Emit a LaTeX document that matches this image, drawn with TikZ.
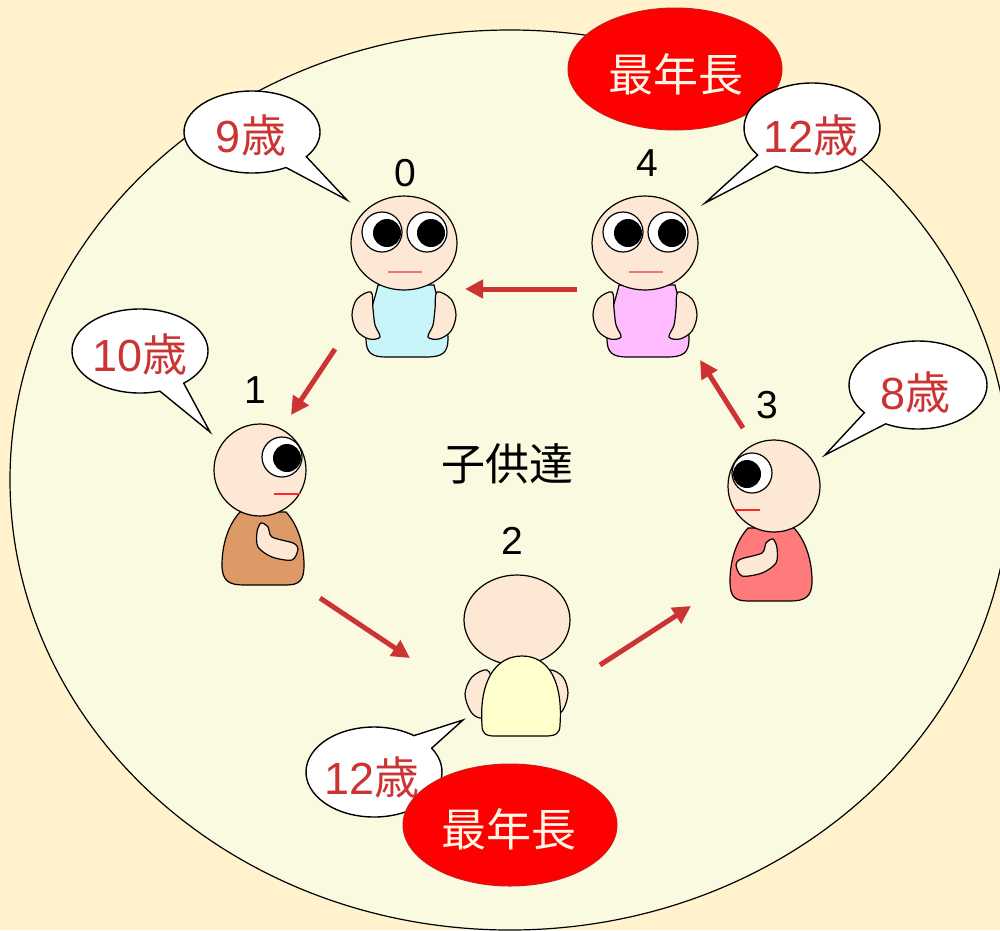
\documentclass[tikz,border=0pt]{standalone}
\usepackage{fontspec}
\setmainfont{Liberation Sans}
\newfontfamily\jp{Noto Sans CJK JP}
\usetikzlibrary{arrows.meta}
\definecolor{paper}{RGB}{255,242,204}
\definecolor{field}{RGB}{250,250,225}
\definecolor{skin}{RGB}{253,231,213}
\definecolor{shirtcyan}{RGB}{200,245,250}
\definecolor{shirtpink}{RGB}{255,187,255}
\definecolor{shirtbrown}{RGB}{221,153,102}
\definecolor{shirtred}{RGB}{255,122,122}
\definecolor{shirtyellow}{RGB}{255,255,204}
\definecolor{agered}{RGB}{204,51,51}
\definecolor{mouthpink}{RGB}{240,120,110}
\definecolor{mouthred}{RGB}{255,40,40}
\definecolor{badgeedge}{RGB}{200,30,30}
\definecolor{badgetext}{RGB}{255,246,230}

\tikzset{
  outline/.style={draw=black,line width=1.2pt},
  bubble/.style={draw=black,line width=1.4pt,fill=white},
  badge/.style={draw=badgeedge,line width=1pt,fill=red},
  flow/.style={draw=agered,line width=5pt,-{Triangle[length=18pt,width=18pt]}},
  agetext/.style={inner sep=0pt,text=agered,font=\fontsize{45}{50}\selectfont},
  badgelabel/.style={inner sep=0pt,text=badgetext,font=\jp\fontsize{45}{50}\selectfont},
  numlabel/.style={inner sep=0pt,font=\fontsize{39}{44}\selectfont},
  % child seen from the front
  pics/frontkid/.style={code={
    \draw[outline,fill=#1] (-26,42) .. controls (-30,60) and (-38,78) .. (-38,96)
      .. controls (-38,110) and (-32,114) .. (-18,114) -- (22,114)
      .. controls (38,114) and (44,110) .. (44,96)
      .. controls (44,78) and (34,60) .. (30,42) -- cycle;
    \draw[outline,fill=skin] plot[smooth cycle,tension=0.55] coordinates
      {(-33,49) (-47,56) (-52,72) (-47,88) (-35,96) (-24,94) (-29,82) (-31,66)};
    \begin{scope}[xscale=-1]
      \draw[outline,fill=skin] plot[smooth cycle,tension=0.55] coordinates
        {(-33,49) (-47,56) (-52,72) (-47,88) (-35,96) (-24,94) (-29,82) (-31,66)};
    \end{scope}
    \draw[outline,fill=skin] (0,0) ellipse[x radius=53,y radius=47];
    \draw[outline,fill=white] (-22,-11) circle[radius=20];
    \fill[black] (-17,-10) circle[radius=14];
    \draw[outline,fill=white] (23,-11) circle[radius=20];
    \fill[black] (27,-10) circle[radius=14];
    \draw[mouthpink,line width=1.6pt] (-16,29) -- (18,29);
  }},
  % child seen from the side, facing right
  pics/sidekid/.style={code={
    \draw[outline,fill=#1] (-20,42) .. controls (-32,55) and (-38,75) .. (-38,95)
      .. controls (-38,111) and (-31,115) .. (-16,115) -- (26,115)
      .. controls (40,115) and (44,110) .. (44,95)
      .. controls (44,75) and (38,55) .. (26,42) -- cycle;
    \draw[outline,fill=skin] plot[smooth cycle,tension=0.5] coordinates
      {(1,53) (8,57) (12,67) (33,73) (38,79) (32,90) (12,87) (-2,77) (-3,62)};
    \draw[outline,fill=skin] (0,0) circle[radius=46];
    \draw[outline,fill=white] (22,-13) circle[radius=20];
    \fill[black] (27,-12) circle[radius=14];
    \draw[mouthred,line width=1.4pt] (14,24) -- (40,24);
  }},
  % child seen from behind
  pics/backkid/.style={code={
    \draw[outline,fill=skin] plot[smooth cycle,tension=0.55] coordinates
      {(-30,50) (-45,57) (-52,74) (-46,92) (-36,98) (-26,90) (-24,65)};
    \draw[outline,fill=skin] plot[smooth cycle,tension=0.55] coordinates
      {(33,50) (46,57) (51,73) (46,90) (36,96) (28,88) (26,62)};
    \draw[outline,fill=skin] (0,0) ellipse[x radius=53,y radius=45];
    \draw[outline,fill=#1] (-35,105) .. controls (-38,62) and (-22,36) .. (5,36)
      .. controls (32,36) and (46,62) .. (43,105)
      .. controls (43,114) and (38,116) .. (28,116) -- (-22,116)
      .. controls (-32,116) and (-35,113) .. (-35,105) -- cycle;
  }}
}

\begin{document}
\begin{tikzpicture}[x=1pt,y=-1pt]
  \useasboundingbox (0,0) rectangle (1000,930);
  \clip (0,0) rectangle (1000,930);
  \fill[paper] (0,0) rectangle (1000,930);

  % the play area
  \draw[outline,fill=field] (510,480) ellipse[x radius=500,y radius=450];

  % the children
  \pic at (404,243) {frontkid=shirtcyan};
  \pic at (645,243) {frontkid=shirtpink};
  \pic at (260,470) {sidekid=shirtbrown};
  \pic[xscale=-1] at (774,486) {sidekid=shirtred};
  \pic at (517,620) {backkid=shirtyellow};

  % index labels
  \node[numlabel] (n0) at (405,173) {0};
  \node[numlabel] (n1) at (255,390) {1};
  \node[numlabel] (n2) at (512,541) {2};
  \node[numlabel] (n3) at (767,405) {3};
  \node[numlabel] (n4) at (647,163) {4};
  \node[inner sep=0pt,font=\jp\fontsize{44}{48}\selectfont] (group) at (507,464) {子供達};

  % passing order
  \coordinate (k4out) at (577,289);
  \coordinate (k0in)  at (465,289);
  \coordinate (k0out) at (335,349);
  \coordinate (k1in)  at (291,415);
  \coordinate (k1out) at (320,598);
  \coordinate (k2in)  at (410,658);
  \coordinate (k2out) at (600,665);
  \coordinate (k3in)  at (691,606);
  \coordinate (k3out) at (743,428);
  \coordinate (k4in)  at (700,360);
  \draw[flow] (k4out) -- (k0in);
  \draw[flow] (k0out) -- (k1in);
  \draw[flow] (k1out) -- (k2in);
  \draw[flow] (k2out) -- (k3in);
  \draw[flow] (k3out) -- (k4in);

  % top badge, then speech bubbles
  \draw[badge] (675,69) ellipse[x radius=107,y radius=61];
  \node[badgelabel] (eldest4) at (676,74) {最年長};

  \draw[bubble] ([shift={(60:68 and 41)}]252,132)
    arc[start angle=60,end angle=397,x radius=68,y radius=41] -- (347,200) -- cycle;
  \node[agetext] (age0) at (251,135) {9{\jp 歳}};

  \draw[bubble] ([shift={(73:68 and 42)}]140,351)
    arc[start angle=73,end angle=410,x radius=68,y radius=42] -- (210,432) -- cycle;
  \node[agetext] (age1) at (140,354) {10{\jp 歳}};

  \draw[bubble] ([shift={(141:69 and 44)}]918,385)
    arc[start angle=141,end angle=478,x radius=69,y radius=44] -- (825,455) -- cycle;
  \node[agetext] (age3) at (915,392) {8{\jp 歳}};

  \draw[bubble] ([shift={(143:68 and 45)}]812,128)
    arc[start angle=143,end angle=482,x radius=68,y radius=45] -- (705,203) -- cycle;
  \node[agetext] (age4) at (811,135) {12{\jp 歳}};

  \draw[bubble] ([shift={(-32:68 and 45)}]374,772)
    arc[start angle=-32,end angle=306,x radius=68,y radius=45] -- (463,720) -- cycle;
  \node[agetext] (age2) at (372,777) {12{\jp 歳}};

  % bottom badge
  \draw[badge] (510,825) ellipse[x radius=107,y radius=61];
  \node[badgelabel] (eldest2) at (509,829) {最年長};
\end{tikzpicture}
\end{document}
